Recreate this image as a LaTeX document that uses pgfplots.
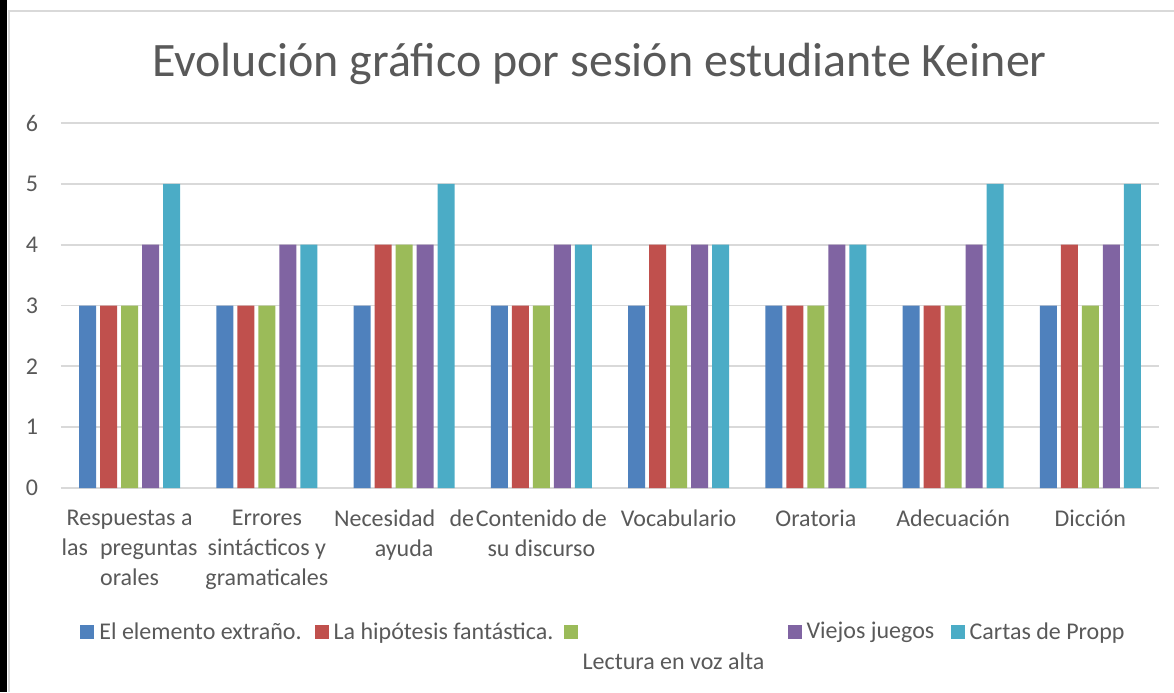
\documentclass[border=0pt]{standalone}
\usepackage{pgfplots}
\pgfplotsset{compat=1.18}
\usepackage{fontspec}
\setmainfont{Carlito}
\definecolor{txt}{HTML}{595959}
\definecolor{gridc}{HTML}{D9D9D9}
\definecolor{sA}{HTML}{4F81BD}
\definecolor{sB}{HTML}{C0504D}
\definecolor{sC}{HTML}{9BBB59}
\definecolor{sD}{HTML}{8064A2}
\definecolor{sE}{HTML}{4BACC6}
\pgfplotsset{sqleg/.style={legend image code/.code={\fill[##1] (0pt,-3.5pt) rectangle (7pt,3.5pt);}}}
\begin{document}
\begin{tikzpicture}
\path[use as bounding box] (0,0) rectangle (587pt,-346pt);
\fill[black] (0,0) rectangle (3.5pt,-346pt);
\draw[gridc, line width=0.9pt] (4.5pt,-346pt) -- (4.5pt,-5.5pt) -- (587pt,-5.5pt);
\node[anchor=base, text=txt, font=\fontsize{24}{28}\selectfont] at (299.75pt,-38pt) {Evolución gráfico por sesión estudiante Keiner};
\begin{axis}[
  at={(30.5pt,-244pt)}, anchor=south west,
  width=549pt, height=182.5pt, scale only axis,
  xmin=-0.5, xmax=7.5, ymin=0, ymax=6,
  ytick={0,1,2,3,4,5,6}, xtick={0,1,2,3,4,5,6,7},
  xticklabels={{Respuestas a\\las\hspace{0.5em}preguntas\\orales},{Errores\\sintácticos y\\gramaticales},{Necesidad\hspace{0.6em}de\\ayuda},{Contenido de\\su discurso},{Vocabulario},{Oratoria},{Adecuación},{Dicción}},
  axis line style={draw=none}, major tick length=0pt,
  ymajorgrids, grid style={gridc, line width=0.9pt},
  tick label style={text=txt, font=\fontsize{12}{15}\selectfont, /pgf/number format/assume math mode=true},
  xticklabel style={align=center, anchor=north, yshift=-7.5pt},
  yticklabel style={anchor=east, xshift=-8pt},
  legend style={at={(0.0173,-0.395)}, anchor=west, draw=none, fill=none, inner sep=0pt,
    font=\fontsize{12}{14}\selectfont, text=txt, legend columns=5,
    nodes={inner sep=2.5pt},
    /tikz/every even column/.append style={column sep=4pt}},
  legend cell align=left,
]
% El elemento extraño.
\addplot[ybar, bar width=0.124, bar shift=-0.306, fill=sA, draw=none, sqleg] coordinates {(0,3) (1,3) (2,3) (3,3) (4,3) (5,3) (6,3) (7,3)};
\addlegendentry{El elemento extraño.}
% La hipótesis fantástica.
\addplot[ybar, bar width=0.124, bar shift=-0.153, fill=sB, draw=none, sqleg] coordinates {(0,3) (1,3) (2,4) (3,3) (4,4) (5,3) (6,3) (7,4)};
\addlegendentry{\makebox[108.5pt][l]{La hipótesis fantástica.}}
% Lectura en voz alta
\addplot[ybar, bar width=0.124, bar shift=0, fill=sC, draw=none, sqleg] coordinates {(0,3) (1,3) (2,4) (3,3) (4,3) (5,3) (6,3) (7,3)};
\addlegendentry{\makebox[96pt][l]{\smash{\raisebox{-19.5pt}{Lectura en voz alta}}}}
% Viejos juegos
\addplot[ybar, bar width=0.124, bar shift=0.153, fill=sD, draw=none, sqleg] coordinates {(0,4) (1,4) (2,4) (3,4) (4,4) (5,4) (6,4) (7,4)};
\addlegendentry{\makebox[65.5pt][l]{Viejos juegos}}
% Cartas de Propp
\addplot[ybar, bar width=0.124, bar shift=0.306, fill=sE, draw=none, sqleg] coordinates {(0,5) (1,4) (2,5) (3,4) (4,4) (5,4) (6,5) (7,5)};
\addlegendentry{Cartas de Propp}
\end{axis}
\end{tikzpicture}
\end{document}
